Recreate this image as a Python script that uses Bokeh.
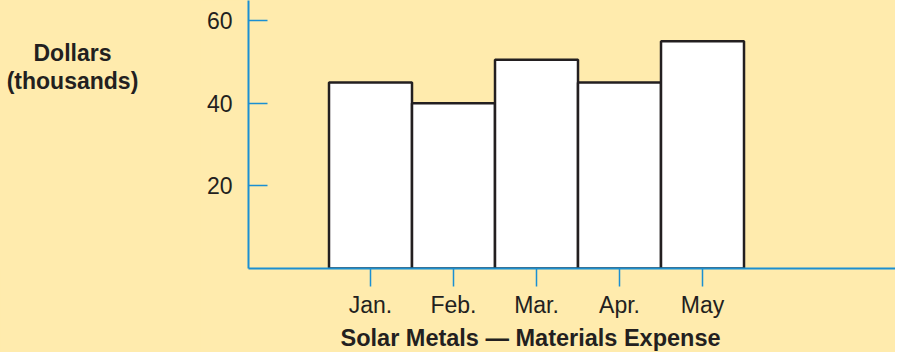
from bokeh.plotting import figure
from bokeh.models import FixedTicker, Range1d, Title
from bokeh.layouts import row
from bokeh.core.properties import value
from bokeh.embed import file_html
from bokeh.resources import INLINE

# ---- data ----
months = ["Jan.", "Feb.", "Mar.", "Apr.", "May"]
expense = [45, 40, 50.5, 45, 55]          # thousands of dollars
y_ticks = [20, 40, 60]
title_text = "Solar Metals \u2014 Materials Expense"
ylabel_lines = ["Dollars", "(thousands)"]

# ---- style ----
BG = "#FFEBAD"
BLUE = "#1B8FD2"
INK = "#231F20"
FONT = "Liberation Sans"

H = 352
CAP_W = 200                 # caption panel on the left
W = 895 - CAP_W             # main chart
LEFT, BOTTOM = 48, 84
frame_w = W - LEFT
frame_h = H - BOTTOM
px_per_x = 83.0
px_per_y = 4.133
x_start = -1.47
x_end = x_start + frame_w / px_per_x
y_end = frame_h / px_per_y

# ---- caption panel (horizontal y-axis caption) ----
cap = figure(width=CAP_W, height=H, output_backend="svg", toolbar_location=None,
             x_range=Range1d(0, CAP_W), y_range=Range1d(0, frame_h),
             min_border_left=0, min_border_right=0, min_border_top=0,
             min_border_bottom=BOTTOM)
cap.axis.visible = False
cap.grid.visible = False
cap.outline_line_color = None
cap.background_fill_alpha = 0
cap.border_fill_color = BG
cap.text(x=[72, 72], y=[frame_h - 52, frame_h - 80], text=ylabel_lines,
         text_align="center", text_baseline="middle",
         text_font=value(FONT), text_font_size="23px",
         text_font_style="bold", text_color=INK)

# ---- main chart ----
xs = list(range(len(months)))

p = figure(width=W, height=H, output_backend="svg", toolbar_location=None,
           x_range=Range1d(x_start, x_end), y_range=Range1d(0, y_end),
           min_border_left=LEFT, min_border_right=0, min_border_top=0,
           min_border_bottom=BOTTOM)
p.background_fill_color = BG
p.border_fill_color = BG
p.outline_line_color = None
p.xgrid.visible = False
p.ygrid.visible = False

p.vbar(x=xs, top=expense, width=1.0, bottom=0, fill_color="white",
       line_color=INK, line_width=2.5)

# y axis
ya = p.yaxis[0]
ya.ticker = FixedTicker(ticks=y_ticks)
ya.axis_line_color = BLUE
ya.axis_line_width = 2
ya.major_tick_line_color = BLUE
ya.major_tick_line_width = 1.5
ya.major_tick_in = 19
ya.major_tick_out = 0
ya.minor_tick_line_color = None
ya.major_label_standoff = 16
ya.major_label_text_font = FONT
ya.major_label_text_font_size = "23px"
ya.major_label_text_color = INK

# x axis
xa = p.xaxis[0]
xa.ticker = FixedTicker(ticks=xs)
xa.major_label_overrides = {i: m for i, m in zip(xs, months)}
xa.axis_line_color = BLUE
xa.axis_line_width = 2
xa.major_tick_line_color = BLUE
xa.major_tick_line_width = 1.5
xa.major_tick_in = 0
xa.major_tick_out = 18
xa.minor_tick_line_color = None
xa.major_label_standoff = 5
xa.major_label_text_font = FONT
xa.major_label_text_font_size = "23px"
xa.major_label_text_color = INK

# bottom title
p.add_layout(Title(text=title_text, align="left", offset=92,
                   text_font=FONT, text_font_size="23.5px",
                   text_font_style="bold", text_color=INK, standoff=4),
             "below")

layout = row(cap, p, styles={"background-color": BG})
open("out.html", "w").write(file_html(layout, INLINE))
